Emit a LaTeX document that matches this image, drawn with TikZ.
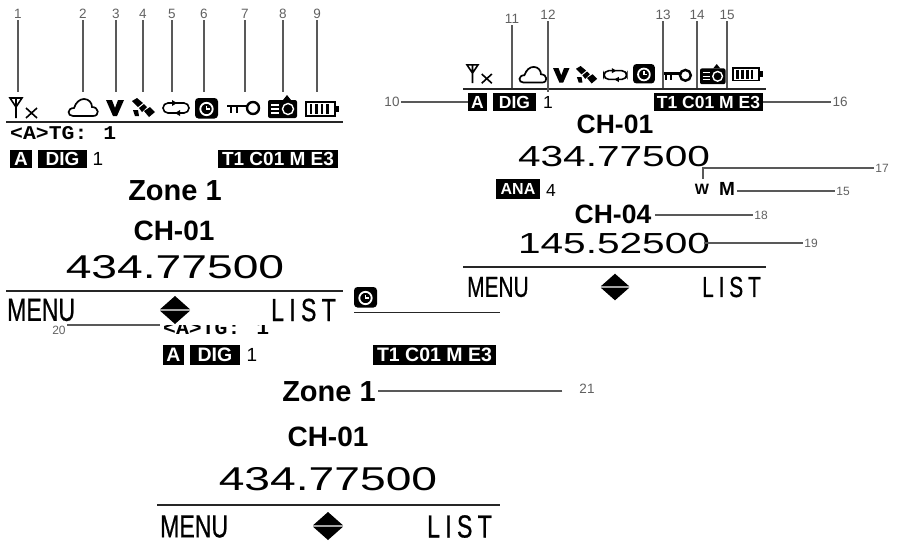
\documentclass[tikz,border=0pt]{standalone}
\usepackage{fontspec}
\usepackage{tikz}
\usetikzlibrary{calc}
\setmainfont{Liberation Sans}
\newfontfamily\softfont[FakeStretch=0.72,FakeBold=0.6]{Liberation Sans}
\newfontfamily\freqfont[FakeStretch=1.4]{Liberation Sans}
\newfontfamily\tgfont[FakeStretch=1.1]{Liberation Mono}

\begin{document}
\begin{tikzpicture}[
    x=1pt, y=-1pt,
    num/.style={inner sep=1.5pt, text=black!62, font=\fontsize{13.5}{15}\selectfont},
    numsm/.style={inner sep=1.5pt, text=black!62, font=\fontsize{12}{14}\selectfont},
    lead/.style={draw=black!65, line width=1.1pt},
    rule/.style={draw=black!85, line width=1.6pt},
    badge/.style={fill=black, text=white, inner sep=0pt, minimum height=18pt, font=\fontsize{19}{20}\selectfont\bfseries},
    plain/.style={inner sep=0pt, font=\fontsize{19}{21}\selectfont},
    zone/.style={inner sep=0pt, font=\fontsize{29}{32}\selectfont\bfseries},
    chan/.style={inner sep=0pt, font=\fontsize{28}{32}\selectfont\bfseries},
    chansm/.style={inner sep=0pt, font=\fontsize{26.5}{30}\selectfont\bfseries},
    freq/.style={inner sep=0pt, font=\fontsize{33}{36}\selectfont\freqfont},
    freqsm/.style={inner sep=0pt, font=\fontsize{29}{33}\selectfont\freqfont},
    soft/.style={inner sep=0pt, font=\fontsize{32}{34}\selectfont\softfont},
    softsm/.style={inner sep=0pt, font=\fontsize{29}{32}\selectfont\softfont},
    tg/.style={inner sep=0pt, font=\fontsize{19.5}{21}\selectfont\bfseries\tgfont},
    updown/.pic={
      \fill (-15,-.7)--(0,-14)--(15,-.7)--cycle;
      \fill (-15,.7)--(0,14)--(15,.7)--cycle;
    },
    txicon/.pic={
      \draw[line width=1.6pt] (0,2)--(12,2)--(6,11)--cycle (6,2)--(6,22);
      \draw[line width=1.6pt] (16,12)--(27,22) (27,12)--(16,22);
    },
    cloudicon/.pic={
      \draw[line width=1.7pt] (6,18) .. controls (0,18) and (0,10) .. (7,10) .. controls (9,4) and (13,1) .. (17,1) .. controls (22,1) and (25,5) .. (25,9) .. controls (32,9) and (33,18) .. (26,18) -- cycle;
    },
    vicon/.pic={
      \fill (0,0)--(6,0)--(9,8)--(12,0)--(18,0)--(11,16)--(7,16)--cycle;
    },
    saticon/.pic={
      \fill (0,3)--(5,0)--(11,5)--(6,9)--cycle;
      \fill (12,13)--(18,9)--(23,14)--(17,19)--cycle;
      \fill (7,10)--(12,6)--(15,9)--(10,14)--cycle;
      \fill (1,12)--(6,12)--(7,18)--(3,18)--cycle;
    },
    repicon/.pic={
      \draw[line width=1.6pt, rounded corners=5pt] (11,3)--(27,3)--(27,13)--(17,13);
      \draw[line width=1.6pt, rounded corners=5pt] (17,13)--(1,13)--(1,3)--(11,3);
      \fill (10,0)--(15,3)--(10,6)--cycle;
      \fill (18,10)--(13,13)--(18,16)--cycle;
    },
    clockicon/.pic={
      \fill[rounded corners=3.5pt] (0,0) rectangle (23,20.5);
      \draw[white, line width=1.8pt] (11.5,11) circle (6.2pt);
      \draw[white, line width=1.2pt] (11.5,7.5)--(11.5,11)--(15,11);
    },
    keyicon/.pic={
      \draw[line width=2.4pt] (26,7) circle (6pt);
      \draw[line width=2.4pt] (0,5)--(20,5);
      \draw[line width=2.2pt] (4,5)--(4,12) (10,5)--(10,12);
    },
    camicon/.pic={
      \fill[rounded corners=2pt] (0,5) rectangle (29,23);
      \fill (15,5)--(19,0)--(23,5)--cycle;
      \draw[white, line width=1.3pt] (3,10)--(11,10) (3,14)--(11,14) (3,18)--(11,18);
      \draw[white, line width=1.4pt] (20,14) circle (5.5pt);
    },
    baticon/.pic={
      \draw[line width=1.6pt] (0.8,0.8) rectangle (30,15);
      \fill (31,4.5) rectangle (34,11);
      \draw[line width=2.4pt] (6,3)--(6,13) (11.5,3)--(11.5,13) (17,3)--(17,13) (22.5,3)--(22.5,13);
    }
  ]
    \useasboundingbox (0,0) rectangle (902,542);

    % screen with the status icons
    \pic at (10,96) {txicon};
    \pic at (67,98) {cloudicon};
    \pic at (106,100) {vicon};
    \pic at (132,98) {saticon};
    \pic at (162,100) {repicon};
    \pic at (195,98) {clockicon};
    \pic at (227,101) {keyicon};
    \pic at (268,95) {camicon};
    \pic at (305,101) {baticon};
    \coordinate (ruleAl) at (6,122);
    \coordinate (ruleAr) at (343,122);
    \draw[rule] (ruleAl) -- (ruleAr);
    \node[tg, anchor=west] (tgA) at (10,133) {<A>TG:\ \hspace{3pt}1};
    \node[badge, minimum width=22pt] (slotA) at (21,159) {A};
    \node[badge, minimum width=49pt] (digA) at (62.5,159) {DIG};
    \node[plain] (numA) at (98,159) {1};
    \node[badge, minimum width=120pt] (modeA) at (278,159) {T1 C01 M E3};
    \node[zone] (zoneA) at (175,191) {Zone 1};
    \node[chan] (chA) at (174,231) {CH-01};
    \node[freq] (freqA) at (175,267) {434.77500};
    \coordinate (ruleBl) at (6,291);
    \coordinate (ruleBr) at (343,291);
    \draw[rule] (ruleBl) -- (ruleBr);
    \node[soft, anchor=west] (menuA) at (7,310) {MENU};
    \node[soft, anchor=east] (listA) at (336,310) {L\,I\,S\,T};
    \pic at (175,310) {updown};

    \node[num] (num1) at (18,14) {1};
    \node[num] (num2) at (83,14) {2};
    \node[num] (num3) at (116,14) {3};
    \node[num] (num4) at (143,14) {4};
    \node[num] (num5) at (172,14) {5};
    \node[num] (num6) at (204,14) {6};
    \node[num] (num7) at (245,14) {7};
    \node[num] (num8) at (283,14) {8};
    \node[num] (num9) at (317,14) {9};
    \coordinate (tip1) at (18,92);
    \coordinate (tip2) at (83,92);
    \coordinate (tip3) at (116,92);
    \coordinate (tip4) at (143,92);
    \coordinate (tip5) at (172,92);
    \coordinate (tip6) at (204,92);
    \coordinate (tip7) at (245,92);
    \coordinate (tip8) at (283,92);
    \coordinate (tip9) at (317,92);
    \draw[lead] (num1) -- (tip1);
    \draw[lead] (num2) -- (tip2);
    \draw[lead] (num3) -- (tip3);
    \draw[lead] (num4) -- (tip4);
    \draw[lead] (num5) -- (tip5);
    \draw[lead] (num6) -- (tip6);
    \draw[lead] (num7) -- (tip7);
    \draw[lead] (num8) -- (tip8);
    \draw[lead] (num9) -- (tip9);

    % screen with two channels
    \pic[scale=.92] at (467,63) {txicon};
    \pic[scale=.92] at (518,66) {cloudicon};
    \pic[scale=.92] at (553,68) {vicon};
    \pic[scale=.92] at (576,66) {saticon};
    \pic[scale=.88] at (603,68) {repicon};
    \pic[scale=.95] at (633,64) {clockicon};
    \pic[scale=.9] at (662,69) {keyicon};
    \pic[scale=.88] at (700,64) {camicon};
    \pic[scale=.9] at (732,67) {baticon};
    \coordinate (ruleCl) at (463,89);
    \coordinate (ruleCr) at (766,89);
    \draw[rule] (ruleCl) -- (ruleCr);
    \node[badge, minimum width=19pt, font=\fontsize{17.5}{19}\selectfont\bfseries] (slotB) at (477.5,102) {A};
    \node[badge, minimum width=43pt, font=\fontsize{17.5}{19}\selectfont\bfseries] (digB) at (514.5,102) {DIG};
    \node[plain, font=\fontsize{17.5}{19}\selectfont] (numB) at (548,102) {1};
    \node[badge, minimum width=109pt, font=\fontsize{17.5}{19}\selectfont\bfseries] (modeB) at (708.5,102) {T1 C01 M E3};
    \node[chansm] (chB) at (615,124) {CH-01};
    \node[freqsm] (freqB) at (614,157) {434.77500};
    \node[badge, minimum width=44pt, minimum height=20pt, font=\fontsize{16}{18}\selectfont\bfseries] (anaB) at (518,189) {ANA};
    \node[plain, font=\fontsize{17.5}{19}\selectfont] (numC) at (551,190) {4};
    \node[inner sep=0pt, font=\fontsize{15}{17}\selectfont\bfseries] (wattB) at (702,189) {W};
    \node[inner sep=0pt, font=\fontsize{19}{21}\selectfont\bfseries] (memB) at (727,189) {M};
    \node[chansm] (chC) at (613,214) {CH-04};
    \node[freqsm] (freqC) at (614,244) {145.52500};
    \coordinate (ruleDl) at (463,267);
    \coordinate (ruleDr) at (766,267);
    \draw[rule] (ruleDl) -- (ruleDr);
    \node[softsm, anchor=west] (menuB) at (467,287) {MENU};
    \node[softsm, anchor=east] (listB) at (761,287) {L\,I\,S\,T};
    \pic[scale=.95] at (615,287) {updown};

    \node[num] (num10) at (392,102) {10};
    \node[num] (num11) at (512,19) {11};
    \node[num] (num12) at (548,15) {12};
    \node[num] (num13) at (663,15) {13};
    \node[num] (num14) at (697,15) {14};
    \node[num] (num15) at (727,15) {15};
    \node[num] (num16) at (840,102) {16};
    \node[numsm] (num17) at (882,168) {17};
    \node[numsm] (numM) at (843,191) {15};
    \node[numsm] (num18) at (761,215) {18};
    \node[numsm] (num19) at (811,243) {19};
    \coordinate (tip11) at (512,88);
    \coordinate (tip12) at (548,92);
    \coordinate (tip13) at (663,88);
    \coordinate (tip14) at (697,88);
    \coordinate (tip15) at (727,88);
    \coordinate (knee17) at (703,168);
    \coordinate (tip17) at (703,179);
    \coordinate (tipM) at (737,191);
    \coordinate (tip18) at (655,215);
    \coordinate (tip19) at (704,243);
    \draw[lead] (num10) -- (slotB);
    \draw[lead] (num11) -- (tip11);
    \draw[lead] (num12) -- (tip12);
    \draw[lead] (num13) -- (tip13);
    \draw[lead] (num14) -- (tip14);
    \draw[lead] (num15) -- (tip15);
    \draw[lead] (num16) -- (modeB);
    \draw[lead] (num17) -- (knee17) -- (tip17);
    \draw[lead] (numM) -- (tipM);
    \draw[lead] (num18) -- (tip18);
    \draw[lead] (num19) -- (tip19);

    % screen with the zone name, its top is cut off
    \begin{scope}
      \clip (40,325.5) rectangle (300,340);
      \node[numsm] (num20) at (59,330) {20};
      \node[tg, anchor=west] (tgC) at (163,328) {<A>TG:\ \hspace{3pt}1};
    \end{scope}
    \coordinate (tip20) at (160,325);
    \draw[lead] (num20.east |- tip20) -- (tip20);
    \begin{scope}
      \clip (350,284) rectangle (380,312);
      \pic at (354,287) {clockicon};
    \end{scope}
    \coordinate (ruleEl) at (354,312.5);
    \coordinate (ruleEr) at (500,312.5);
    \draw[rule] (ruleEl) -- (ruleEr);
    \node[badge, minimum width=21pt, minimum height=20pt, font=\fontsize{19.5}{21}\selectfont\bfseries] (slotC) at (173.5,354.5) {A};
    \node[badge, minimum width=50pt, minimum height=20pt, font=\fontsize{19.5}{21}\selectfont\bfseries] (digC) at (215,354.5) {DIG};
    \node[plain] (numD) at (252,355) {1};
    \node[badge, minimum width=123pt, minimum height=20pt, font=\fontsize{19.5}{21}\selectfont\bfseries] (modeC) at (434.5,354.5) {T1 C01 M E3};
    \node[zone] (zoneC) at (329,392) {Zone 1};
    \node[chan] (chD) at (328,437) {CH-01};
    \node[freq] (freqD) at (328,479) {434.77500};
    \coordinate (ruleFl) at (157,505);
    \coordinate (ruleFr) at (500,505);
    \draw[rule] (ruleFl) -- (ruleFr);
    \node[soft, anchor=west] (menuC) at (160,526.5) {MENU};
    \node[soft, anchor=east] (listC) at (492,526.5) {L\,I\,S\,T};
    \pic at (328,526) {updown};

    \node[num, inner xsep=17pt] (num21) at (587,389) {21};
    \coordinate (tip21) at (378,391);
    \draw[lead] (num21.west |- tip21) -- (tip21);
  \end{tikzpicture}
\end{document}
